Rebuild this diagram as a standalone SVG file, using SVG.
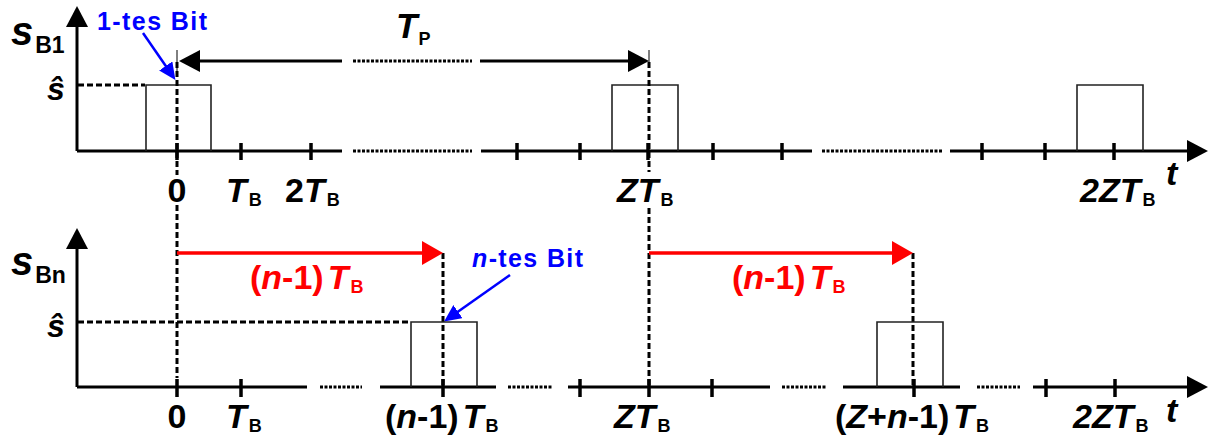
<svg xmlns="http://www.w3.org/2000/svg" width="1208" height="443" viewBox="0 0 1208 443">
<style>
text{font-family:"Liberation Sans",Arial,sans-serif;font-weight:bold;fill:#000}
.i{font-style:italic}
.lab{font-size:34px}
.sub{font-size:18px;font-style:normal}
.subs{font-size:23px;font-style:normal}
.sig{font-size:40px;font-style:italic}
.hat{font-size:32px;font-style:italic}
.blue{fill:#0000ff}
.red{fill:#ff0000}
.ax{stroke:#000;stroke-width:3;fill:none}
.tk{stroke:#000;stroke-width:3.5}
.brk{stroke:#000;stroke-width:3;stroke-dasharray:3 1.5;fill:none}
.dash{stroke:#000;stroke-width:3;stroke-dasharray:6 3;fill:none}
.thin{stroke:#000;stroke-width:1}
.pulse{fill:none;stroke:#222;stroke-width:1.6}
.rl{stroke:#ff0000;stroke-width:3.5;fill:none}
.bl{stroke:#0000ff;stroke-width:2.5;fill:none}
</style>
<defs>
<marker id="ak" markerUnits="userSpaceOnUse" viewBox="0 0 21 22" markerWidth="21" markerHeight="22" refX="13" refY="11" orient="auto-start-reverse"><path d="M0,0 L21,11 L0,22 Z" fill="#000"/></marker>
<marker id="ar" markerUnits="userSpaceOnUse" viewBox="0 0 21 24" markerWidth="21" markerHeight="24" refX="13" refY="12" orient="auto"><path d="M0,0 L21,12 L0,24 Z" fill="#ff0000"/></marker>
<marker id="ab" markerUnits="userSpaceOnUse" viewBox="0 0 17 16" markerWidth="17" markerHeight="16" refX="11" refY="8" orient="auto"><path d="M0,0 L17,8 L0,16 Z" fill="#0000ff"/></marker>
</defs>

<g id="connectors">
<!-- top panel axes -->
<path class="ax" d="M77,151 V14" marker-end="url(#ak)"/>
<path class="ax" d="M77,151 H342"/>
<path class="brk" d="M353,151 H472"/>
<path class="ax" d="M481,151 H812"/>
<path class="brk" d="M822,151 H942"/>
<path class="ax" d="M950,151 H1200" marker-end="url(#ak)"/>
<g class="tk">
<path d="M177,143 V160 M241,143 V160 M311,143 V160 M517,143 V160 M580,143 V160 M648,143 V160 M713,143 V160 M782,143 V160 M982,143 V160 M1045,143 V160 M1114,143 V160"/>
</g>
<!-- top pulses -->
<path class="pulse" d="M146,151 V85 H211 V151"/>
<path class="pulse" d="M612,151 V85 H678 V151"/>
<path class="pulse" d="M1077,151 V85 H1143 V151"/>
<!-- s-hat level top -->
<path class="dash" d="M78,85 H145"/>
<!-- T_P arrow -->
<path class="thin" d="M177,50 V72 M649,50 V62"/>
<path class="ax" d="M187,61 H342" marker-start="url(#ak)"/>
<path class="brk" d="M353,61 H472"/>
<path class="ax" d="M480,61 H641" marker-end="url(#ak)"/>
<!-- vertical dotted -->
<path class="dash" d="M177,62 V175 M177,205 V378"/>
<path class="dash" d="M649,62 V172 M649,208 V387"/>
<path class="dash" d="M443,253 V387"/>
<path class="dash" d="M913,253 V387"/>
<!-- blue arrows -->
<path class="bl" d="M143,33 L172,75" marker-end="url(#ab)"/>
<path class="bl" d="M510,275 L449,318" marker-end="url(#ab)"/>

<!-- lower panel axes -->
<path class="ax" d="M77,387 V236" marker-end="url(#ak)"/>
<path class="ax" d="M77,387 H307"/>
<path class="brk" d="M320,387 H362"/>
<path class="ax" d="M380,387 H496"/>
<path class="brk" d="M508,387 H552"/>
<path class="ax" d="M568,387 H770"/>
<path class="brk" d="M782,387 H827"/>
<path class="ax" d="M843,387 H960"/>
<path class="brk" d="M977,387 H1020"/>
<path class="ax" d="M1033,387 H1200" marker-end="url(#ak)"/>
<g class="tk">
<path d="M177,379 V397 M241,379 V397 M443,379 V397 M580,379 V397 M649,379 V397 M712,379 V397 M914,379 V397 M1046,379 V397 M1115,379 V397"/>
</g>
<path class="pulse" d="M411,387 V322 H477 V387"/>
<path class="pulse" d="M877,387 V322 H943 V387"/>
<path class="dash" d="M78,322 H410"/>
<!-- red arrows -->
<path class="rl" d="M177,253 H435" marker-end="url(#ar)"/>
<path class="rl" d="M649,253 H905" marker-end="url(#ar)"/>
</g>

<g id="node-top-labels">
<text x="11" y="45" class="sig">s<tspan class="subs" dx="2" dy="8">B1</tspan></text>
<text x="47" y="100" class="hat">ŝ</text>
<text x="97" y="30" class="blue" font-size="25" textLength="110" lengthAdjust="spacing">1-tes Bit</text>
<text x="396" y="38" class="i" font-size="35">T<tspan class="sub" dx="1" dy="7">P</tspan></text>
<text x="177" y="202" class="lab" text-anchor="middle">0</text>
<text x="226" y="202" class="lab i">T<tspan class="sub" dx="2" dy="4">B</tspan></text>
<text x="285" y="202" class="lab">2<tspan class="i">T</tspan><tspan class="sub" dx="2" dy="4">B</tspan></text>
<text x="617" y="202" class="lab i">ZT<tspan class="sub" dx="2" dy="4">B</tspan></text>
<text x="1080" y="202" class="lab i">2ZT<tspan class="sub" dx="2" dy="4">B</tspan></text>
<text x="1166" y="185" class="lab i">t</text>
</g>

<g id="node-bottom-labels">
<text x="11" y="275" class="sig">s<tspan class="subs" dx="2" dy="8">Bn</tspan></text>
<text x="47" y="337" class="hat">ŝ</text>
<text x="472" y="267" class="blue" font-size="25" textLength="111" lengthAdjust="spacing"><tspan class="i">n</tspan>-tes Bit</text>
<text x="250" y="289" class="lab red">(<tspan class="i">n</tspan>-1)<tspan class="i" dx="4">T</tspan><tspan class="sub" dx="2" dy="4">B</tspan></text>
<text x="732" y="289" class="lab red">(<tspan class="i">n</tspan>-1)<tspan class="i" dx="4">T</tspan><tspan class="sub" dx="2" dy="4">B</tspan></text>
<text x="177" y="428" class="lab" text-anchor="middle">0</text>
<text x="226" y="428" class="lab i">T<tspan class="sub" dx="2" dy="4">B</tspan></text>
<text x="385" y="428" class="lab">(<tspan class="i">n</tspan>-1)<tspan class="i" dx="4">T</tspan><tspan class="sub" dx="2" dy="4">B</tspan></text>
<text x="614" y="428" class="lab i">ZT<tspan class="sub" dx="2" dy="4">B</tspan></text>
<text x="835" y="428" class="lab">(<tspan class="i">Z</tspan>+<tspan class="i">n</tspan>-1)<tspan class="i" dx="4">T</tspan><tspan class="sub" dx="2" dy="4">B</tspan></text>
<text x="1073" y="428" class="lab i">2ZT<tspan class="sub" dx="2" dy="4">B</tspan></text>
<text x="1166" y="422" class="lab i">t</text>
</g>
</svg>
